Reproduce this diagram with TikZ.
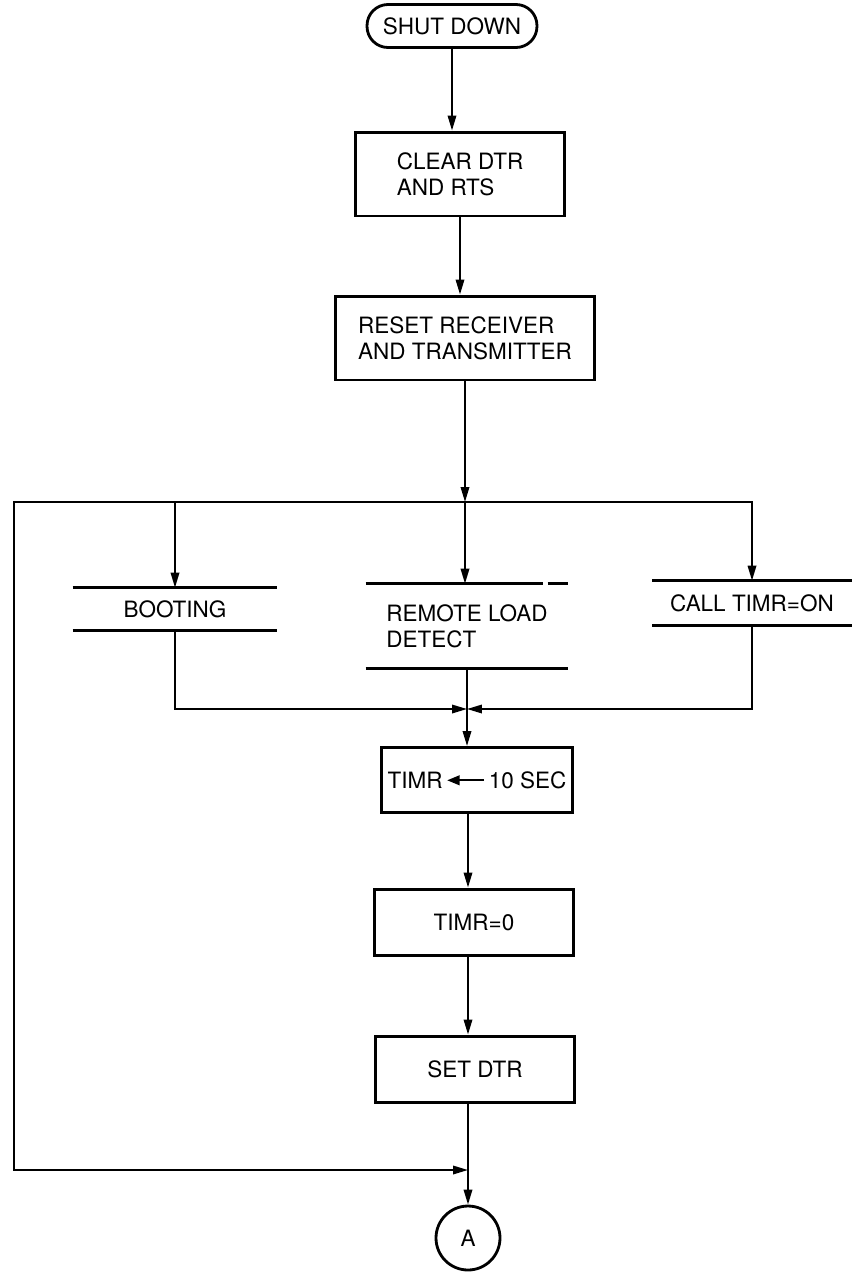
\documentclass[tikz,border=0pt]{standalone}
\usepackage{fontspec}
\setmainfont{TeX Gyre Heros}
\usetikzlibrary{arrows.meta,positioning,calc}

\tikzset{
  flow/.style={line width=1.1pt,-{Triangle[length=8.5pt,width=4.8pt]}},
  term/.style={draw,line width=1.6pt,rounded corners=0.42cm,minimum width=3.4cm,minimum height=0.86cm},
  proc/.style={draw,line width=1.7pt,align=left,inner sep=0pt,minimum height=1.68cm},
  bars/.style={align=left,inner sep=0pt},
  bar/.style={line width=1.9pt}
}

\begin{document}
\begin{tikzpicture}[x=0.02cm,y=-0.02cm,font=\fontsize{12.8}{15}\selectfont]
  \useasboundingbox (0,0) rectangle (852,1272);

  % main column
  \node[term] (shut) at (452,26) {SHUT DOWN};
  \node[proc,minimum width=4.2cm] (clear) at (460,174) {CLEAR DTR\\AND RTS};
  \node[proc,minimum width=5.2cm] (reset) at (465,338) {RESET RECEIVER\\AND TRANSMITTER};
  \coordinate (split) at (465,502);
  \coordinate (lft) at (14,502);

  % the three states
  \node[bars,minimum width=4.08cm,minimum height=0.84cm] (boot) at (175,609) {BOOTING};
  \node[bars,minimum width=4.04cm,minimum height=1.68cm] (remote) at (467,626) {REMOTE LOAD\\DETECT};
  \node[bars,minimum width=3.98cm,minimum height=0.88cm] (call) at (752,603) {CALL TIMR=ON};
  \draw[bar] (boot.north west) -- (boot.north east) (boot.south west) -- (boot.south east);
  \draw[bar] (remote.north west) -- ++(177,0) ++(5,0) -- (remote.north east)
             (remote.south west) -- (remote.south east);
  \draw[bar] (call.north west) -- (call.north east) (call.south west) -- (call.south east);
  \coordinate (merge) at (467,709);

  \node[proc,minimum width=3.84cm,minimum height=1.3cm] (timr) at (477,780)
    {TIMR\,\tikz[baseline={(0,-4.5pt)},x=1cm,y=1cm]\draw[line width=1pt,-{Triangle[length=7pt,width=5.5pt]}] (0.74,0) -- (0,0);\,10 SEC};
  \node[proc,minimum width=4cm,minimum height=1.32cm] (zero) at (474,922) {TIMR=0};
  \node[proc,minimum width=4cm,minimum height=1.32cm] (setdtr) at (475,1069) {SET DTR};
  \coordinate (join) at (468,1170);
  \node[draw,circle,line width=1.6pt,minimum size=1.28cm,inner sep=0pt] (conA) at (468,1238) {A};

  % connectors
  \draw[flow] (shut.south) -- (shut.south |- clear.north);
  \draw[flow] (clear.south) -- (clear.south |- reset.north);
  \draw[flow] (reset.south) -- (split);
  \draw[flow] (split) -| (boot.north);
  \draw[flow] (split) -- (split |- remote.north);
  \draw[flow] (split) -| (call.north);
  \draw[flow] (split) -- (lft) |- (join);
  \draw[flow] (boot.south) |- (merge);
  \draw[flow] (call.south) |- (merge);
  \draw[flow] (remote.south) -- (remote.south |- timr.north);
  \draw[flow] (timr.south -| join) -- (zero.north -| join);
  \draw[flow] (zero.south -| join) -- (setdtr.north -| join);
  \draw[line width=1.1pt] (setdtr.south -| join) -- (join);
  \draw[flow] (join) -- (conA);
\end{tikzpicture}
\end{document}
